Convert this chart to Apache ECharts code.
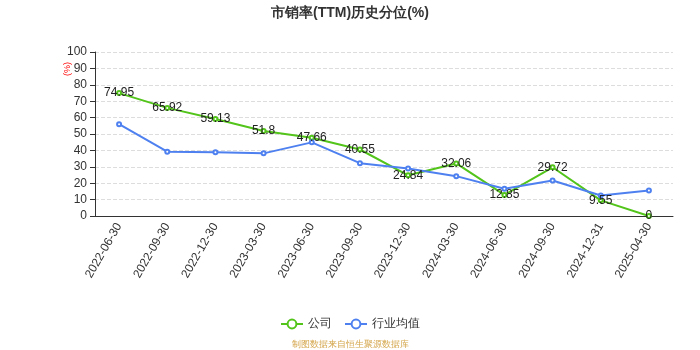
<!DOCTYPE html>
<html>
<head>
<meta charset="utf-8">
<script src="https://cdn.jsdelivr.net/npm/echarts@6/dist/echarts.min.js"></script>
<style>
  html, body { margin: 0; padding: 0; background: #fff; }
  #chart { width: 700px; height: 350px; }
</style>
</head>
<body>
<div id="chart"></div>
<script>
// Report dates on the category axis
const dates = ['2022-06-30', '2022-09-30', '2022-12-30', '2023-03-30', '2023-06-30', '2023-09-30',
  '2023-12-30', '2024-03-30', '2024-06-30', '2024-09-30', '2024-12-31', '2025-04-30'];
// Company P/S (TTM) historical percentile
const companyValues = [74.95, 65.92, 59.13, 51.8, 47.66, 40.55, 24.84, 32.06, 12.85, 29.72, 9.55, 0];
// Industry average percentile
const industryValues = [56, 39.2, 38.9, 38.2, 44.9, 32.2, 28.9, 24.3, 16.6, 21.6, 12.5, 15.5];
const yTicks = [0, 10, 20, 30, 40, 50, 60, 70, 80, 90, 100];

const chart = echarts.init(document.getElementById('chart'));
chart.setOption({
  animation: false,
  title: {
    text: '市销率(TTM)历史分位(%)',
    left: 'center',
    top: 1,
    textStyle: { fontSize: 14, fontWeight: 'bold', color: '#333' }
  },
  grid: { left: 95, right: 27, top: 52, bottom: 134 },
  legend: {
    bottom: 15,
    left: 'center',
    itemWidth: 22,
    itemHeight: 11,
    itemGap: 12,
    textStyle: { fontSize: 12, color: '#333' },
    data: ['公司', '行业均值']
  },
  graphic: [
    {
      type: 'text',
      left: 'center',
      top: 340,
      style: { text: '制图数据来自恒生聚源数据库', fill: '#d4a54a', fontSize: 9 }
    },
    {
      type: 'text',
      x: 63,
      y: 76,
      rotation: Math.PI / 2,
      style: { text: '(%)', fill: '#f00', fontSize: 9 }
    }
  ],
  xAxis: {
    type: 'category',
    data: dates,
    boundaryGap: true,
    axisLine: { lineStyle: { color: '#333' } },
    axisLabel: { rotate: 60, fontSize: 12, color: '#333', interval: 0, margin: 8 }
  },
  yAxis: {
    type: 'value',
    min: yTicks[0],
    max: yTicks[yTicks.length - 1],
    interval: 10,
    axisLine: { show: true, lineStyle: { color: '#333' } },
    axisTick: { show: true },
    axisLabel: { fontSize: 12, color: '#333' },
    splitLine: { lineStyle: { type: 'dashed', color: '#ddd' } }
  },
  series: [
    {
      name: '公司',
      type: 'line',
      data: companyValues,
      symbol: 'emptyCircle',
      symbolSize: 4,
      color: '#52c41a',
      lineStyle: { width: 2 },
      label: { show: true, position: 'inside', color: '#222', fontSize: 12 }
    },
    {
      name: '行业均值',
      type: 'line',
      data: industryValues,
      symbol: 'emptyCircle',
      symbolSize: 4,
      color: '#4e80f0',
      lineStyle: { width: 2 }
    }
  ]
});
</script>
</body>
</html>
